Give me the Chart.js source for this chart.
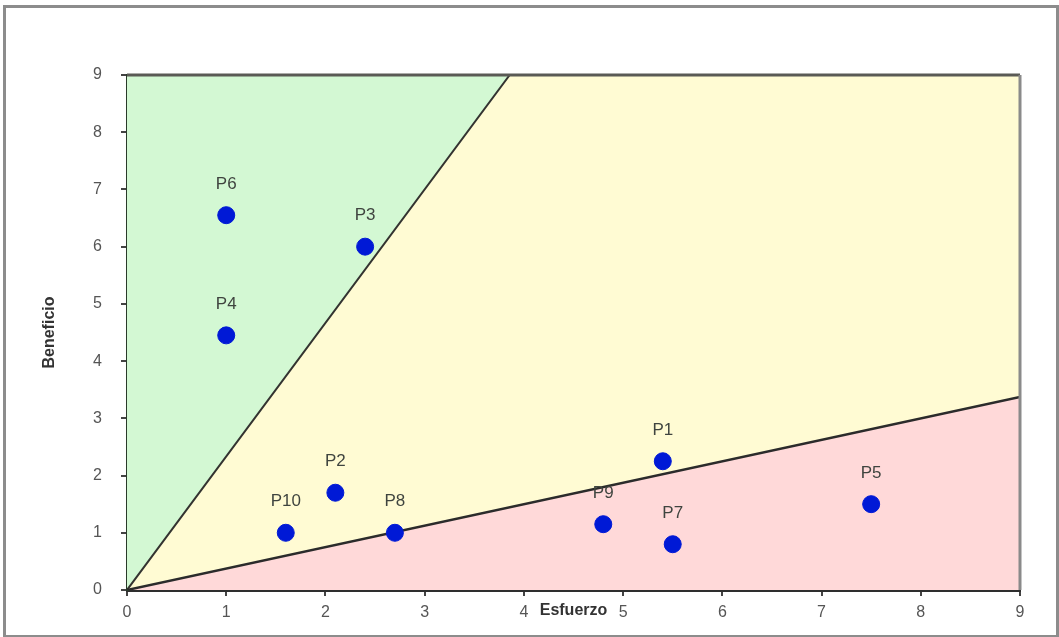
<!DOCTYPE html>
<html>
<head>
<meta charset="utf-8">
<script src="https://cdn.jsdelivr.net/npm/chart.js@4.4.1/dist/chart.umd.min.js"></script>
<style>
  html, body { margin: 0; padding: 0; background: #fff; }
  #wrap { position: relative; width: 1059px; height: 637px; }
  #frame { position: absolute; left: 3px; top: 5px; width: 1050px; height: 627px; border: 3px solid #8c8c8c; pointer-events: none; box-sizing: content-box; }
  canvas { display: block; }
</style>
</head>
<body>
<div id="wrap">
  <canvas id="c" width="1059" height="637"></canvas>
  <div id="frame"></div>
</div>
<script>
// Data
const labels = ['P1','P2','P3','P4','P5','P6','P7','P8','P9','P10'];
const esfuerzo = [5.4, 2.1, 2.4, 1.0, 7.5, 1.0, 5.5, 2.7, 4.8, 1.6];
const beneficio = [2.25, 1.7, 6.0, 4.45, 1.5, 6.55, 0.8, 1.0, 1.15, 1.0];
const upperX = [0, 3.857, 9];
const upperY = [0, 9, 9];
const lowerX = [0, 9];
const lowerY = [0, 3.375];
const topX = [0, 9];
const topY = [9, 9];
const tickValues = [0,1,2,3,4,5,6,7,8,9];

const pts = (xs, ys) => xs.map((x, i) => ({x: x, y: ys[i]}));
const FONT = '"Liberation Sans", Arial, sans-serif';

const pointLabels = {
  id: 'pointLabels',
  afterDatasetsDraw(chart) {
    const meta = chart.getDatasetMeta(3);
    const ctx = chart.ctx;
    ctx.save();
    ctx.font = '17px ' + FONT;
    ctx.fillStyle = '#3f443f';
    ctx.textAlign = 'center';
    ctx.textBaseline = 'middle';
    meta.data.forEach((el, i) => {
      ctx.fillText(labels[i], el.x, el.y - 31);
    });
    ctx.restore();
  }
};

const plotBorder = {
  id: 'plotBorder',
  afterDatasetsDraw(chart) {
    const a = chart.chartArea;
    const ctx = chart.ctx;
    ctx.save();
    ctx.lineWidth = 3;
    ctx.strokeStyle = '#5a5a55';
    ctx.beginPath();
    ctx.moveTo(a.left, a.top);
    ctx.lineTo(a.right, a.top);
    ctx.stroke();
    ctx.strokeStyle = '#8a8a8a';
    ctx.beginPath();
    ctx.moveTo(a.right, a.top);
    ctx.lineTo(a.right, a.bottom);
    ctx.stroke();
    ctx.restore();
  }
};

new Chart(document.getElementById('c'), {
  type: 'scatter',
  data: {
    datasets: [
      { type: 'line', data: pts(topX, topY), fill: 'start', backgroundColor: '#d3f8d3', borderWidth: 0, pointRadius: 0, order: 4 },
      { type: 'line', data: pts(upperX, upperY), fill: 'start', backgroundColor: '#fffbd3', borderColor: '#333330', borderWidth: 2, pointRadius: 0, order: 3 },
      { type: 'line', data: pts(lowerX, lowerY), fill: 'start', backgroundColor: '#ffd9d9', borderColor: '#2b2b2b', borderWidth: 2.5, pointRadius: 0, order: 2 },
      { data: pts(esfuerzo, beneficio), backgroundColor: '#0019d6', borderColor: '#0019d6', pointRadius: 8.5, pointHoverRadius: 8.5, order: 1 }
    ]
  },
  options: {
    responsive: false,
    animation: false,
    events: [],
    layout: { padding: { left: 0, right: 39, top: 75, bottom: 0 } },
    plugins: { legend: { display: false }, tooltip: { enabled: false } },
    scales: {
      x: {
        type: 'linear', min: 0, max: 9,
        afterFit(s) { s.height = 47; },
        afterBuildTicks(s) { s.ticks = tickValues.map(v => ({value: v})); },
        grid: { drawOnChartArea: false, tickLength: 6, color: '#444', lineWidth: 2 },
        border: { color: '#2e2e2e', width: 3 },
        ticks: { color: '#555', font: { size: 16, family: FONT }, padding: 7 },
        title: { display: true, text: 'Esfuerzo', color: '#333', font: { size: 16, weight: 'bold', family: FONT }, padding: { top: 0, bottom: 17 } }
      },
      y: {
        type: 'linear', min: 0, max: 9,
        afterFit(s) { s.width = 127; },
        afterBuildTicks(s) { s.ticks = tickValues.map(v => ({value: v})); },
        grid: { drawOnChartArea: false, tickLength: 6, color: '#444', lineWidth: 2 },
        border: { color: '#2a3a2a', width: 3 },
        ticks: { color: '#555', font: { size: 16, family: FONT }, padding: 19 },
        title: { display: true, text: 'Beneficio', color: '#333', font: { size: 16, weight: 'bold', family: FONT }, padding: { top: 40, bottom: 0 } }
      }
    }
  },
  plugins: [pointLabels, plotBorder]
});
</script>
</body>
</html>
